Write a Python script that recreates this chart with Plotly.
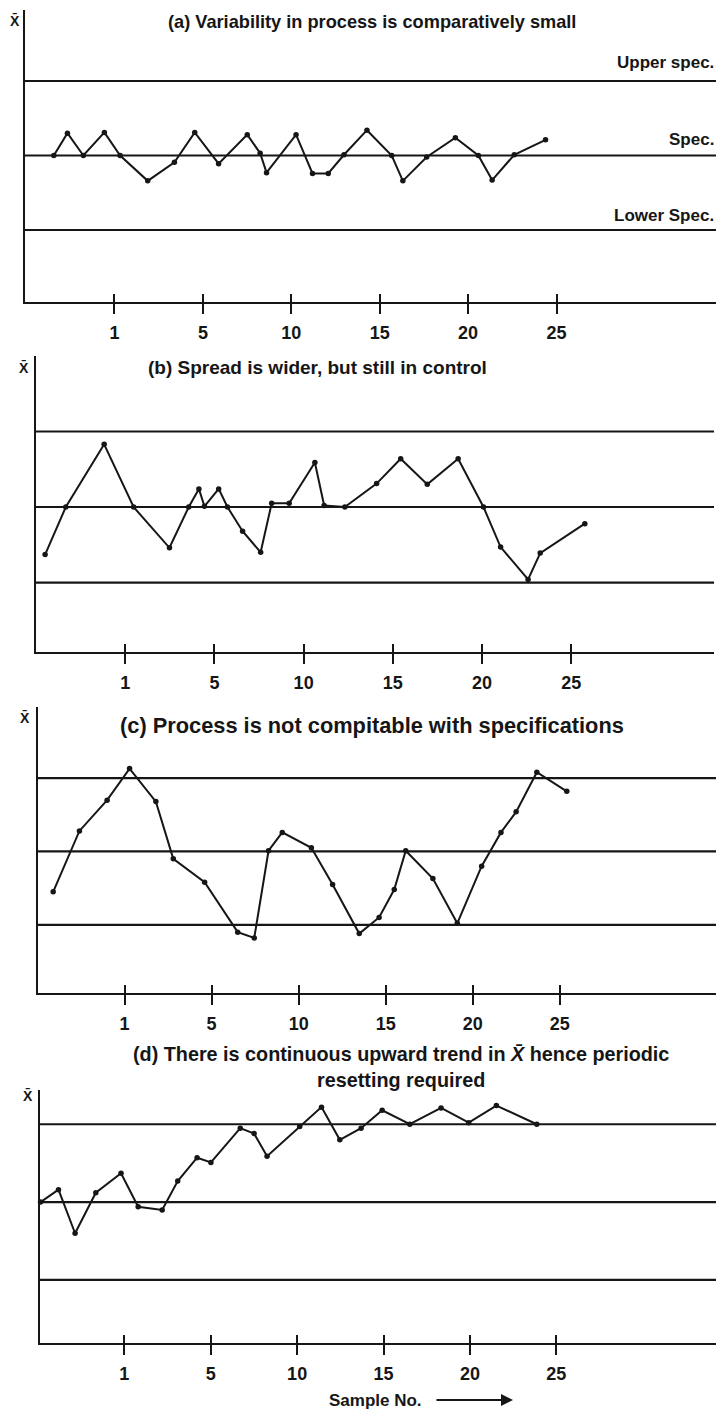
import plotly.graph_objects as go

W, H = 722, 1412

# Sample positions along each chart's axis and the plotted X-bar values
# (in units of the distance between the spec line and a spec limit).
a_x = [-3.43, -2.66, -1.76, -0.57, 0.32, 1.88, 3.39, 4.54, 5.89, 7.51, 8.24, 8.6,
       10.27, 11.2, 12.09, 12.98, 14.28, 15.68, 16.31, 17.66, 19.28, 20.58, 21.36,
       22.61, 24.38]
a_y = [0.0, 0.30, 0.0, 0.31, 0.0, -0.34, -0.09, 0.31, -0.11, 0.28, 0.03, -0.23,
       0.28, -0.24, -0.24, 0.01, 0.34, 0.0, -0.34, -0.02, 0.24, 0.0, -0.33, 0.01, 0.21]

b_x = [-4.49, -3.33, -1.18, 0.47, 2.48, 3.56, 4.13, 4.44, 5.24, 5.73, 6.58, 7.59,
       8.21, 9.19, 10.63, 11.15, 12.31, 14.09, 15.44, 16.93, 18.66, 20.08, 21.04,
       22.58, 23.26, 25.76]
b_y = [-0.63, 0.0, 0.83, 0.0, -0.54, 0.0, 0.24, 0.01, 0.24, 0.0, -0.32, -0.6,
       0.05, 0.05, 0.59, 0.02, 0.0, 0.31, 0.64, 0.30, 0.64, 0.0, -0.53, -0.96,
       -0.61, -0.22]

c_x = [-4.1, -2.59, -1.0, 0.29, 1.8, 2.8, 4.6, 6.5, 7.45, 8.27, 9.06, 10.73, 11.95,
       13.48, 14.62, 15.49, 16.15, 17.71, 19.11, 20.51, 21.62, 22.49, 23.68, 25.4]
c_y = [-0.55, 0.28, 0.70, 1.13, 0.68, -0.10, -0.42, -1.10, -1.18, 0.01, 0.26, 0.05,
       -0.45, -1.12, -0.9, -0.52, 0.01, -0.37, -0.98, -0.2, 0.26, 0.54, 1.08, 0.82]

d_x = [-4.85, -3.81, -2.85, -1.65, -0.19, 0.8, 2.19, 3.09, 4.21, 5.01, 6.71, 7.51,
       8.26, 10.15, 11.41, 12.47, 13.7, 14.92, 16.52, 18.33, 19.93, 21.53, 23.87]
d_y = [0.0, 0.16, -0.40, 0.12, 0.37, -0.06, -0.10, 0.27, 0.57, 0.51, 0.95, 0.88,
       0.59, 0.97, 1.22, 0.80, 0.95, 1.18, 1.0, 1.21, 1.02, 1.24, 1.0]

tick_pos = [0, 5, 10, 15, 20, 25]
tick_text = ["1", "5", "10", "15", "20", "25"]
spec_levels = [1, 0, -1]
spec_names = ["Upper spec.", "Spec.", "Lower Spec."]

titles = [
    "(a) Variability in process is comparatively small",
    "(b) Spread is wider, but still in control",
    "(c) Process is not compitable with specifications",
    "(d) There is continuous upward trend in <i>X\u0304</i> hence periodic<br>resetting required",
]

INK = "#161616"
FONT = "Liberation Sans"

# Pixel frame of each chart: left, right, top, bottom, plus x/y ranges.
panels = [
    dict(x=a_x, y=a_y, L=25, R=716, T=10, B=302, xr=[-5.06, 34.02], yr=[-1.966, 1.953]),
    dict(x=b_x, y=b_y, L=36, R=714, T=356, B=652, xr=[-5.0, 33.0], yr=[-1.92, 2.0]),
    dict(x=c_x, y=c_y, L=38, R=716, T=707, B=993, xr=[-4.97, 33.97], yr=[-1.93, 1.97]),
    dict(x=d_x, y=d_y, L=40, R=716, T=1090, B=1343, xr=[-4.88, 34.24], yr=[-1.81, 1.44]),
]

fig = go.Figure()
layout = dict(
    width=W, height=H, margin=dict(l=0, r=0, t=0, b=0),
    paper_bgcolor="white", plot_bgcolor="white", showlegend=False,
    font=dict(family=FONT, color=INK),
)
shapes = []

for i, p in enumerate(panels):
    n = i + 1
    sx = "" if n == 1 else str(n)
    xa, ya = "x" + sx, "y" + sx
    ov = str(n + 4)
    xdom = [p["L"] / W, p["R"] / W]
    ydom = [1 - p["B"] / H, 1 - p["T"] / H]

    fig.add_trace(go.Scatter(
        x=p["x"], y=p["y"], xaxis=xa, yaxis=ya, mode="lines+markers",
        line=dict(color=INK, width=2), marker=dict(color=INK, size=5.5),
        cliponaxis=False, hoverinfo="skip",
    ))
    # empty trace so the overlay axis (inner half of tick marks) is drawn
    fig.add_trace(go.Scatter(x=[], y=[], xaxis="x" + ov, yaxis=ya, hoverinfo="skip"))

    axis_common = dict(range=p["xr"], domain=xdom, showgrid=False, zeroline=False,
                       tickmode="array", tickvals=tick_pos, tickwidth=2,
                       tickcolor=INK, fixedrange=True)
    layout["xaxis" + sx] = dict(
        **axis_common, anchor=ya, ticktext=tick_text, ticks="outside", ticklen=10,
        showline=True, linecolor=INK, linewidth=2,
        tickfont=dict(family=FONT, size=18, color=INK, weight="bold"),
        ticklabelstandoff=3,
    )
    layout["xaxis" + ov] = dict(
        **axis_common, anchor=ya, overlaying=xa, ticks="inside", ticklen=8,
        showticklabels=False, showline=False,
    )
    layout["yaxis" + sx] = dict(
        range=p["yr"], domain=ydom, anchor=xa, showgrid=False, zeroline=False,
        showticklabels=False, ticks="", showline=True, linecolor=INK, linewidth=2,
        fixedrange=True,
    )
    for lv in spec_levels:
        shapes.append(dict(type="line", xref=xa + " domain", yref=ya,
                           x0=0, x1=1, y0=lv, y1=lv,
                           line=dict(color=INK, width=2.2), layer="below"))

layout["shapes"] = shapes

ann = []
def txt(text, x, y, size, xanchor="center", yanchor="middle"):
    ann.append(dict(text=text, x=x / W, y=1 - y / H, xref="paper", yref="paper",
                    showarrow=False, xanchor=xanchor, yanchor=yanchor,
                    font=dict(family=FONT, size=size, color=INK, weight="bold")))

# chart titles
txt(titles[0], 372, 22, 18.2)
txt(titles[1], 317, 367, 19)
txt(titles[2], 372, 725, 21.8)
txt(titles[3], 401, 1067, 19.8)

# X-bar labels at the top of each vertical axis
for (xx, yy) in [(15, 20), (24, 367), (25, 717), (28, 1095)]:
    txt("X\u0304", xx, yy, 14)

# spec line names in chart (a)
for name, yy in zip(spec_names, [63, 140, 215]):
    txt(name, 716, yy, 17, xanchor="right")

# axis caption with arrow
txt("Sample No.", 327, 1400, 17, xanchor="left")
ann.append(dict(text="", x=513 / W, y=1 - 1400 / H, xref="paper", yref="paper",
                ax=-78, ay=0, showarrow=True, arrowhead=2, arrowsize=1.2,
                arrowwidth=2, arrowcolor=INK))
layout["annotations"] = ann

fig.update_layout(**layout)
fig.write_html("out.html")
